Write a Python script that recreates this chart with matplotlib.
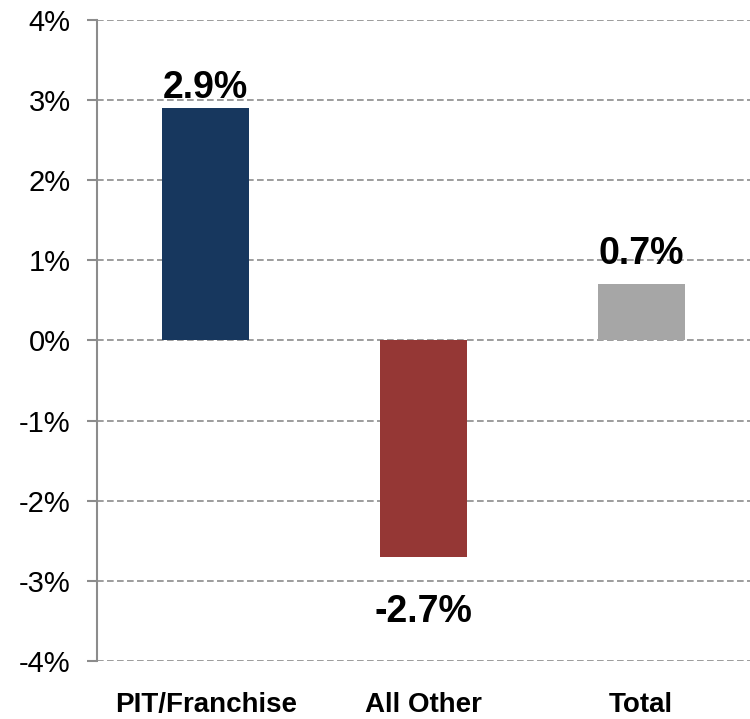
import matplotlib.pyplot as plt
import numpy as np

plt.rcParams['font.family'] = ['Liberation Sans', 'DejaVu Sans']

# values (percent)
categories = ['PIT/Franchise', 'All Other', 'Total']
values = [2.9, -2.7, 0.7]
colors = ['#17375E', '#953735', '#A6A6A6']
yticks = [-4, -3, -2, -1, 0, 1, 2, 3, 4]

fig = plt.figure(figsize=(7.5, 7.19), dpi=100)
ax = fig.add_axes([0.1293, 0.0807, 0.8707, 0.8915])

x = np.arange(len(categories))
bars = ax.bar(x, values, width=0.4, color=colors, zorder=3)

ax.set_xlim(-0.5, 2.5)
ax.set_ylim(-4, 4)
ax.set_yticks(yticks)
ax.set_yticklabels([f'{t}%' for t in yticks], fontsize=21)
ax.set_xticks(x)
ax.set_xticklabels(categories, fontsize=20, fontweight='bold')
ax.tick_params(axis='x', length=0, pad=22)
ax.tick_params(axis='y', length=7, width=1.5, color='#8C8C8C', pad=12)

ax.grid(axis='y', color='#8C8C8C', linestyle=(0, (4, 2)), linewidth=1.2, zorder=0)
for s in ['top', 'right', 'bottom']:
    ax.spines[s].set_visible(False)
ax.spines['left'].set_color('#8C8C8C')
ax.spines['left'].set_linewidth(1.5)

# data labels
offsets = [1.5, -27, 9]
for i, v in enumerate(values):
    ax.annotate(f'{v}%', (x[i], v), xytext=(0, offsets[i]), textcoords='offset points',
                ha='center', va='bottom' if v >= 0 else 'top',
                fontsize=27, fontweight='bold')

fig.savefig('out.png', dpi=100)
plt.close()
